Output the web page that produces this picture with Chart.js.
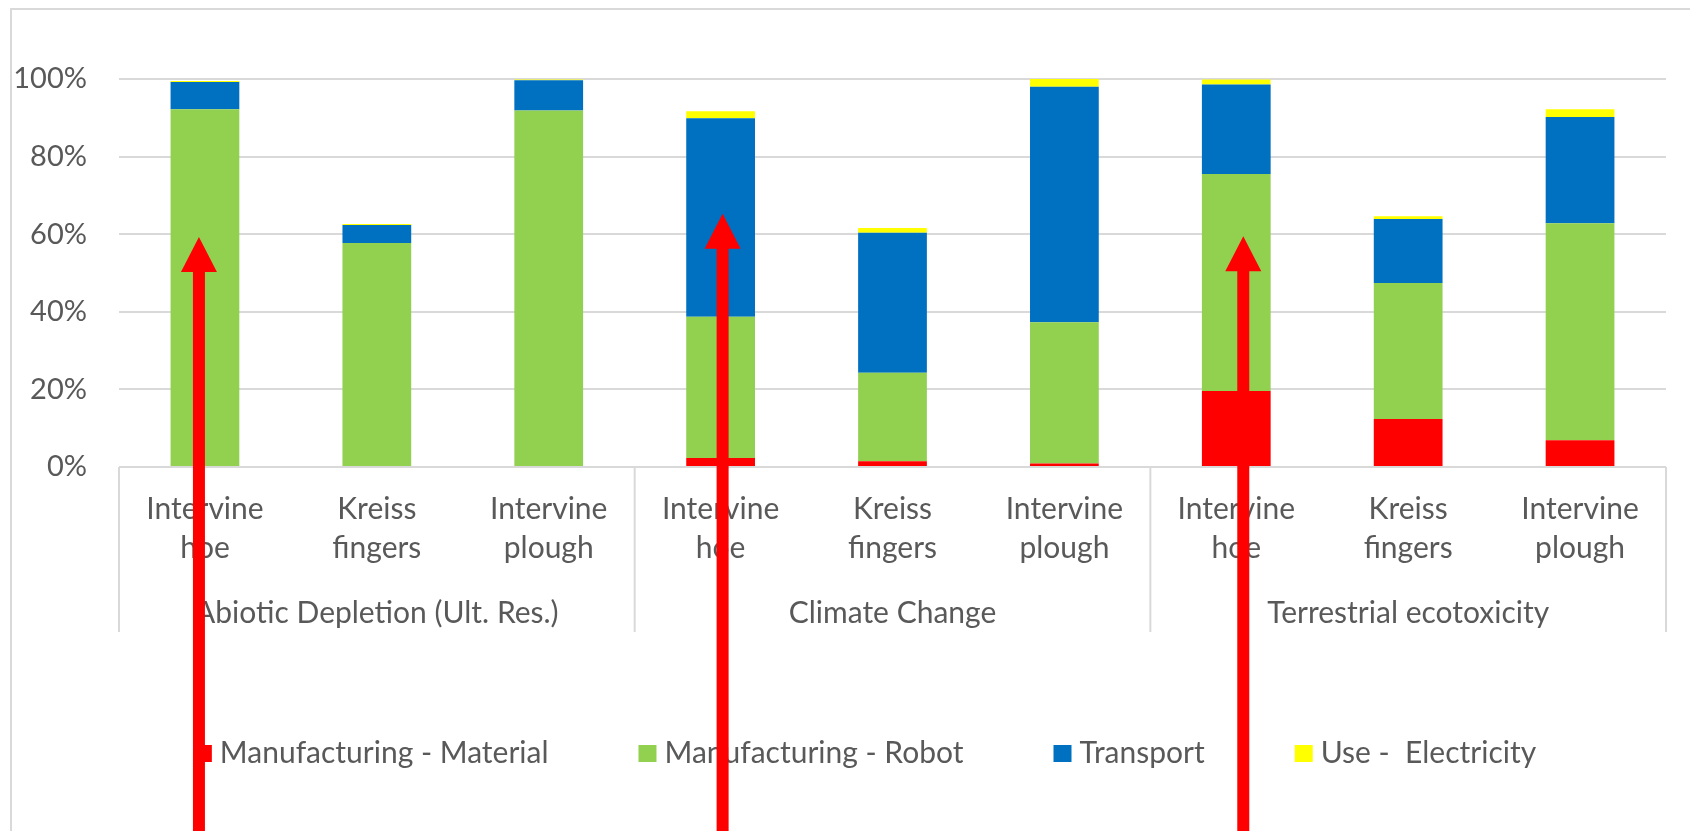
<!DOCTYPE html>
<html><head><meta charset="utf-8">
<script src="https://cdn.jsdelivr.net/npm/chart.js@4.4.0/dist/chart.umd.min.js"></script>
<style>html,body{margin:0;padding:0;background:#fff;overflow:hidden}</style>
</head><body>
<canvas id="c" width="1690" height="831"></canvas>
<script>
// ---- data ----
const categories = [
  ['Intervine','hoe'], ['Kreiss','fingers'], ['Intervine','plough'],
  ['Intervine','hoe'], ['Kreiss','fingers'], ['Intervine','plough'],
  ['Intervine','hoe'], ['Kreiss','fingers'], ['Intervine','plough']
];
const groups = ['Abiotic Depletion (Ult. Res.)', 'Climate Change', 'Terrestrial ecotoxicity'];
const seriesNames = ['Manufacturing - Material', 'Manufacturing - Robot', 'Transport', 'Use -  Electricity'];
const material    = [0,    0,    0,    2.3,  1.5,  0.9,  19.6, 12.4, 6.9];
const robot       = [92.2, 57.7, 91.9, 36.4, 22.8, 36.4, 55.9, 35.0, 55.9];
const transport   = [7.0,  4.7,  7.8,  51.2, 36.1, 60.7, 23.1, 16.5, 27.4];
const electricity = [0.3,  0.2,  0.2,  1.8,  1.2,  2.0,  1.3,  0.7,  2.0];
const yTicks = [0, 20, 40, 60, 80, 100];
const colors = ['#FF0000', '#92D050', '#0070C0', '#FFFF00'];
// annotation arrows: category index and tip value (%)
const arrowCategory = [0, 3, 6];
const arrowTipValue = [59.3, 65.3, 59.5];

const FONT = 'Lato';
const TXT = '#595959';
const GRID = '#D9D9D9';

const deco = {
  id: 'deco',
  beforeDraw(chart) {
    const ctx = chart.ctx;
    ctx.save();
    ctx.fillStyle = '#fff';
    ctx.fillRect(0, 0, chart.width, chart.height);
    ctx.strokeStyle = GRID; ctx.lineWidth = 2;
    ctx.beginPath();
    ctx.moveTo(11, chart.height); ctx.lineTo(11, 9); ctx.lineTo(chart.width, 9);
    ctx.stroke();
    ctx.restore();
  },
  afterDraw(chart) {
    const ctx = chart.ctx;
    const {x, y, x2} = chart.scales;
    ctx.save();
    // group dividers
    ctx.strokeStyle = GRID; ctx.lineWidth = 2;
    const y0 = y.getPixelForValue(0);
    for (let g = 0; g <= groups.length; g++) {
      const px = x.left + g * (x.right - x.left) / groups.length;
      ctx.beginPath(); ctx.moveTo(px, y0); ctx.lineTo(px, x2.bottom); ctx.stroke();
    }
    // legend
    ctx.font = '30px ' + FONT;
    ctx.textBaseline = 'alphabetic';
    const box = 18, boxH = 17, gap = 8, itemGap = 90;
    const ds = chart.data.datasets;
    let total = 0;
    const widths = ds.map(d => ctx.measureText(d.label).width);
    widths.forEach(w => total += box + gap + w);
    total += itemGap * (ds.length - 1);
    let lx = 865 - total / 2;
    const base = 763;
    ds.forEach((d, i) => {
      ctx.fillStyle = d.backgroundColor;
      ctx.fillRect(lx, base - 18, box, boxH);
      ctx.fillStyle = TXT;
      ctx.fillText(d.label, lx + box + gap, base);
      lx += box + gap + widths[i] + itemGap;
    });
    // arrows
    const offs = [-6, 2, 7];
    ctx.fillStyle = '#FF0000';
    arrowCategory.forEach((c, i) => {
      const cx = x.getPixelForValue(c) + offs[i];
      const ty = y.getPixelForValue(arrowTipValue[i]);
      const hl = 35, hw = 18, sw = 6;
      ctx.beginPath();
      ctx.moveTo(cx, ty);
      ctx.lineTo(cx + hw, ty + hl);
      ctx.lineTo(cx + sw, ty + hl);
      ctx.lineTo(cx + sw, chart.height);
      ctx.lineTo(cx - sw, chart.height);
      ctx.lineTo(cx - sw, ty + hl);
      ctx.lineTo(cx - hw, ty + hl);
      ctx.closePath();
      ctx.fill();
    });
    ctx.restore();
  }
};

const seriesData = [material, robot, transport, electricity];
new Chart(document.getElementById('c'), {
  type: 'bar',
  data: {
    labels: categories,
    datasets: seriesNames.map((n, i) => ({
      label: n, data: seriesData[i], backgroundColor: colors[i],
      borderWidth: 0, categoryPercentage: 1.0, barPercentage: 0.4
    }))
  },
  options: {
    responsive: false, animation: false, devicePixelRatio: 1,
    layout: { padding: { left: 11, right: 24, top: 79, bottom: 199 } },
    plugins: { legend: { display: false }, tooltip: { enabled: false } },
    scales: {
      x: {
        stacked: true, weight: 0,
        grid: { display: false }, border: { display: false },
        ticks: { font: { family: FONT, size: 30, lineHeight: 1.3 }, color: TXT, padding: 15, maxRotation: 0, autoSkip: false },
        afterFit: s => { s.height = 117; }
      },
      x2: {
        type: 'category', labels: groups, position: 'bottom', offset: true, weight: 1,
        grid: { display: false }, border: { display: false },
        ticks: { font: { family: FONT, size: 30, lineHeight: 1.3 }, color: TXT, padding: 2, maxRotation: 0, autoSkip: false },
        afterFit: s => { s.height = 48; }
      },
      y: {
        stacked: true, min: 0, max: 100,
        afterBuildTicks: s => { s.ticks = yTicks.map(v => ({ value: v })); },
        grid: { color: GRID, lineWidth: 2, drawTicks: false }, border: { display: false },
        ticks: { callback: v => v + '%', padding: 32, font: { family: FONT, size: 29 }, color: TXT },
        afterFit: s => { s.width = 108; }
      }
    }
  },
  plugins: [deco]
});
</script>
</body></html>
